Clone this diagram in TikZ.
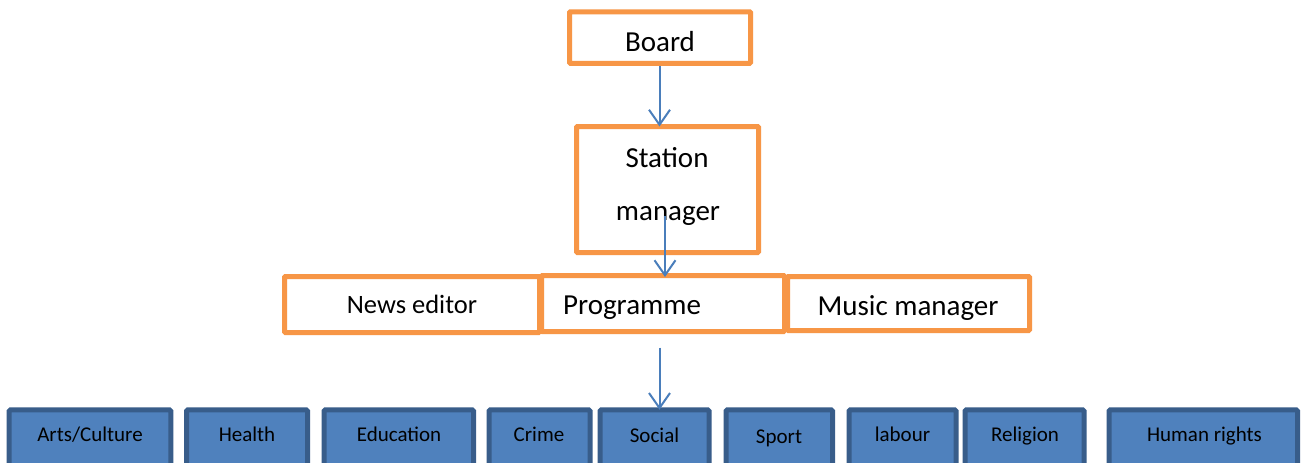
\documentclass[tikz,border=0pt]{standalone}
\usepackage{fontspec}
\setmainfont{Carlito}
\usetikzlibrary{arrows.meta}

\definecolor{boxorange}{RGB}{247,150,70}
\definecolor{topicfill}{RGB}{79,129,189}
\definecolor{topicedge}{RGB}{56,93,138}
\definecolor{arrowblue}{RGB}{74,126,187}

\tikzset{
  orgbox/.style={draw=boxorange, fill=white, line width=5pt, rounded corners=1pt,
                 inner sep=0pt, outer sep=0pt},
  topicbox/.style={draw=topicedge, fill=topicfill, line width=5pt, rounded corners=1.5pt,
                   inner sep=0pt, outer sep=0pt, minimum height=70pt},
  biglbl/.style={anchor=base, inner sep=0pt, font=\fontsize{29}{35}\selectfont},
  midlbl/.style={anchor=base, inner sep=0pt, font=\fontsize{26.5}{32}\selectfont},
  smalllbl/.style={anchor=base, inner sep=0pt, font=\fontsize{21}{25}\selectfont},
  link/.style={draw=arrowblue, line width=2pt,
               -{Straight Barb[length=15pt,width=21pt,line width=2pt]}}
}

\begin{document}
\begin{tikzpicture}[x=1pt,y=-1pt]
  \clip (0,0) rectangle (1302,463);
  \fill[white] (0,0) rectangle (1302,463);

  % management boxes
  \node[orgbox, minimum width=181pt, minimum height=51.7pt] (board) at (660,37.6) {};
  \node[orgbox, minimum width=182pt, minimum height=126pt] (sm) at (667.5,189.5) {};
  \node[orgbox, minimum width=255pt, minimum height=56pt] (news) at (412,304.5) {};
  \node[orgbox, minimum width=243pt, minimum height=56pt] (prog) at (663,303.5) {};
  \node[orgbox, minimum width=242pt, minimum height=54pt] (music) at (908.5,303.5) {};

  % management labels
  \node[biglbl] (board-t) at (660,51.7) {Board};
  \node[biglbl] (sm-t1) at (667,167) {Station};
  \node[biglbl] (sm-t2) at (668,220) {manager};
  \node[midlbl] (news-t) at (412,313) {News editor};
  \node[biglbl] (prog-t) at (632,314) {Programme};
  \node[biglbl] (music-t) at (908,315) {Music manager};

  % programme topics
  \node[topicbox, minimum width=161.6pt] (arts) at (90,444.75) {};
  \node[topicbox, minimum width=121pt] (health) at (247,444.75) {};
  \node[topicbox, minimum width=149.5pt] (edu) at (398.75,444.75) {};
  \node[topicbox, minimum width=101pt] (crime) at (539.5,444.75) {};
  \node[topicbox, minimum width=109pt] (social) at (654.5,444.75) {};
  \node[topicbox, minimum width=106.5pt] (sport) at (779.25,444.75) {};
  \node[topicbox, minimum width=107pt] (labour) at (902.5,444.75) {};
  \node[topicbox, minimum width=119pt] (religion) at (1024.5,444.75) {};
  \node[topicbox, minimum width=188.5pt] (rights) at (1203.25,444.75) {};

  \node[smalllbl] (arts-t) at (90,441) {Arts/Culture};
  \node[smalllbl] (health-t) at (247,441) {Health};
  \node[smalllbl] (edu-t) at (399,441) {Education};
  \node[smalllbl] (crime-t) at (539,441.5) {Crime};
  \node[smalllbl] (social-t) at (654.5,442) {Social};
  \node[smalllbl] (sport-t) at (779,443) {Sport};
  \node[smalllbl] (labour-t) at (902.5,441.5) {labour};
  \node[smalllbl] (religion-t) at (1025,441) {Religion};
  \node[smalllbl] (rights-t) at (1204.5,441) {Human rights};

  % connectors
  \coordinate (board-out) at (659.5,66);
  \coordinate (sm-out) at (665,216);
  \coordinate (prog-out) at (659.5,347.5);
  \draw[link] (board-out) -- (board-out |- sm.north);
  \draw[link] (sm-out) -- ([yshift=-1.5pt]sm-out |- prog.north);
  \draw[link] (prog-out) -- (prog-out |- social.north);
\end{tikzpicture}
\end{document}
